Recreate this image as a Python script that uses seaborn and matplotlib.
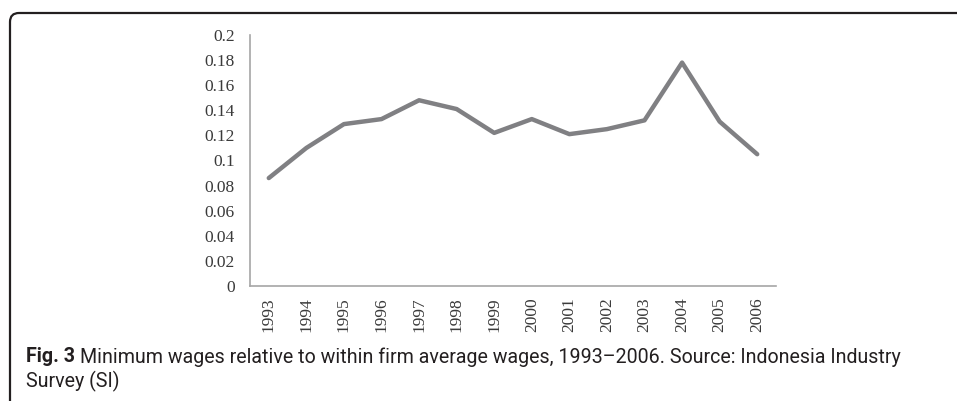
import matplotlib
matplotlib.use("Agg")
import matplotlib.pyplot as plt
import seaborn as sns
import pandas as pd
from matplotlib.patches import FancyBboxPatch
from matplotlib.transforms import IdentityTransform

# Data
years = ["1993", "1994", "1995", "1996", "1997", "1998", "1999",
         "2000", "2001", "2002", "2003", "2004", "2005", "2006"]
ratio = [0.086, 0.110, 0.129, 0.133, 0.148, 0.141, 0.122,
         0.133, 0.121, 0.125, 0.132, 0.178, 0.131, 0.105]
yticks = [0, 0.02, 0.04, 0.06, 0.08, 0.1, 0.12, 0.14, 0.16, 0.18, 0.2]
ytick_labels = ["0", "0.02", "0.04", "0.06", "0.08", "0.1", "0.12",
                "0.14", "0.16", "0.18", "0.2"]

df = pd.DataFrame({"year": years, "ratio": ratio})

sns.set_style("white")
fig = plt.figure(figsize=(9.57, 4.01), dpi=100)
W, H = 957, 401
ax = fig.add_axes([250 / W, 1 - 286 / H, 526 / W, 251 / H])

sns.lineplot(data=df, x="year", y="ratio", ax=ax, color="#808083",
             linewidth=3.2, sort=False)

ax.set_xlim(-0.5, len(years) - 0.5)
ax.set_ylim(0, 0.2)
ax.set_yticks(yticks)
ax.set_yticklabels(ytick_labels)
ax.set_xlabel("")
ax.set_ylabel("")
for s in ["top", "right"]:
    ax.spines[s].set_visible(False)
for s in ["left", "bottom"]:
    ax.spines[s].set_color("#a6a6a6")
    ax.spines[s].set_linewidth(1.2)
ax.tick_params(axis="y", length=0, pad=11, labelsize=12.5,
               labelcolor="#3a3a3a")
ax.tick_params(axis="x", length=0, pad=8, labelsize=12.5,
               labelcolor="#3a3a3a")
for lab in ax.get_xticklabels():
    lab.set_rotation(90)
    lab.set_fontfamily("Liberation Serif")
for lab in ax.get_yticklabels():
    lab.set_fontfamily("Liberation Serif")

# Rounded frame around the figure (pixel coordinates)
frame = FancyBboxPatch((10, -60), 1100, H - 13 + 60,
                       boxstyle="round,pad=0,rounding_size=9",
                       transform=IdentityTransform(), fill=False,
                       edgecolor="#231f20", linewidth=1.6, clip_on=False)
fig.patches.append(frame)

# Caption
cap_font = ["Roboto", "DejaVu Sans"]
line1 = ("Minimum wages relative to within firm average wages, 1993\u20132006. "
         "Source: Indonesia Industry")
fs = 14
t1 = fig.text(26 / W, 1 - 357 / H, "Fig. 3", fontsize=fs, fontweight="bold",
              family=cap_font, color="#231f20", va="center")
t2 = fig.text(0, 1 - 357 / H, line1, fontsize=fs, family=cap_font,
              color="#231f20", va="center")
fig.canvas.draw()
# shrink font so the first caption line ends where it does in the figure
total = t1.get_window_extent().width + 6 + t2.get_window_extent().width
fs = fs * 880 / total
t1.set_fontsize(fs)
t2.set_fontsize(fs)
fig.canvas.draw()
bb = t1.get_window_extent()
t2.set_x((bb.x1 + 5) / W)
fig.text(26 / W, 1 - 381 / H, "Survey (SI)", fontsize=fs, family=cap_font,
         color="#231f20", va="center")

fig.savefig("out.png", dpi=100)
